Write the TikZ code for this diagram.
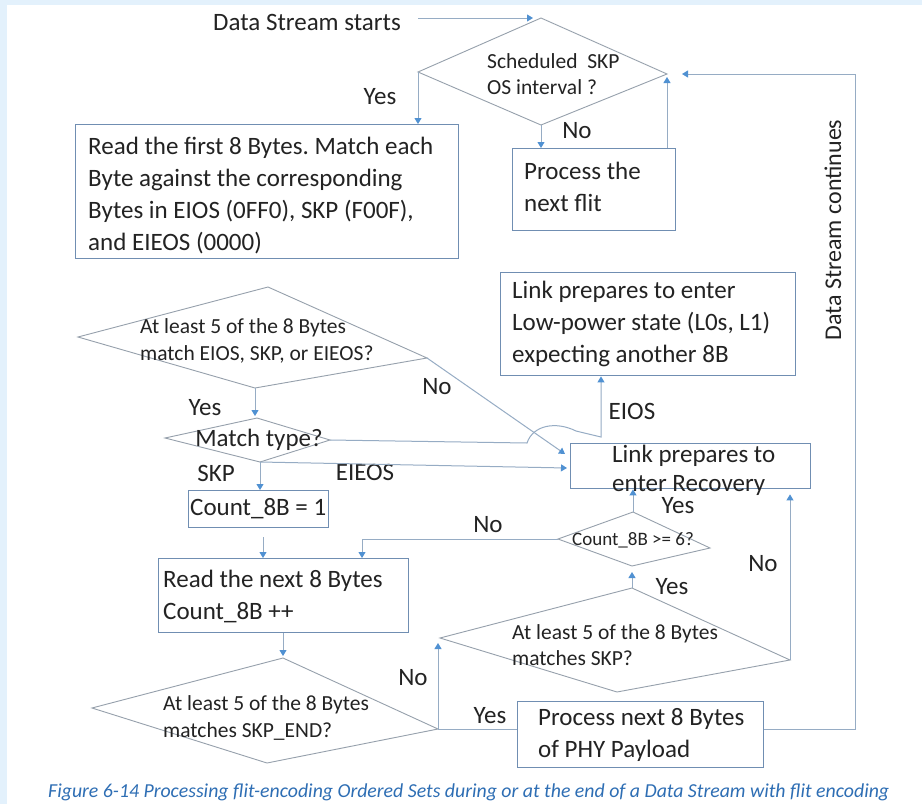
\documentclass[tikz,border=0pt]{standalone}
\usepackage{fontspec}
\setmainfont{Carlito}
\usetikzlibrary{arrows.meta}
\definecolor{bgblue}{RGB}{227,241,252}
\definecolor{boxc}{RGB}{112,142,178}
\definecolor{diac}{RGB}{150,160,172}
\definecolor{lnc}{RGB}{150,172,196}
\definecolor{arrc}{RGB}{80,145,210}
\definecolor{txtc}{RGB}{35,35,35}
\definecolor{capc}{RGB}{46,110,180}
\tikzset{
  big/.style={font=\fontsize{25}{32}\selectfont\frenchspacing, text=txtc},
  mid/.style={font=\fontsize{21.5}{26.5}\selectfont, text=txtc},
  small/.style={font=\fontsize{19}{23}\selectfont, text=txtc},
  box/.style={draw=boxc, line width=1.4pt, anchor=north west, inner sep=0pt},
  btext/.style={big, inner sep=0pt, align=left, anchor=west},
  lbl/.style={big, inner sep=0pt},
  dtext/.style={mid, inner sep=0pt, align=left, anchor=west},
  conn/.style={draw=lnc, line width=1pt},
  arr/.style={conn, -{Triangle[length=6pt,width=7pt,color=arrc]}},
  dia/.style={draw=diac, line width=0.9pt, line join=miter},
}
\begin{document}
\begin{tikzpicture}[x=1pt,y=-1pt]
\useasboundingbox (0,0) rectangle (922,804);
\fill[bgblue] (0,0) rectangle (922,804);
\fill[white] (7,5) rectangle (922,804);

% diamond vertices
\coordinate (d1t) at (541,18);  \coordinate (d1r) at (667,74);
\coordinate (d1b) at (541,125); \coordinate (d1l) at (418,72);
\coordinate (d2t) at (268,287); \coordinate (d2r) at (427,358);
\coordinate (d2b) at (255,388); \coordinate (d2l) at (78,337);
\coordinate (mt) at (257,418);  \coordinate (mr) at (330,440);
\coordinate (mb) at (260,462);  \coordinate (ml) at (165,438);
\coordinate (d3t) at (633,512); \coordinate (d3r) at (710,548);
\coordinate (d3b) at (632,566); \coordinate (d3l) at (558,539);
\coordinate (d4t) at (632,588); \coordinate (d4r) at (790,660);
\coordinate (d4b) at (617,692); \coordinate (d4l) at (440,638);
\coordinate (d5t) at (283,658); \coordinate (d5r) at (438,729);
\coordinate (d5b) at (267,763); \coordinate (d5l) at (92,708);

\draw[dia] (d1t) -- (d1r) -- (d1b) -- (d1l) -- cycle;
\draw[dia] (d2t) -- (d2r) -- (d2b) -- (d2l) -- cycle;
\draw[dia] (mt) -- (mr) -- (mb) -- (ml) -- cycle;
\draw[dia] (d3t) -- (d3r) -- (d3b) -- (d3l) -- cycle;
\draw[dia] (d4t) -- (d4r) -- (d4b) -- (d4l) -- cycle;
\draw[dia] (d5t) -- (d5r) -- (d5b) -- (d5l) -- cycle;

% diamond texts
\node[dtext] (d1x) at (487,74) {Scheduled\ \ SKP\\OS interval ?};
\node[dtext] (d2x) at (140,341) {At least 5 of the 8 Bytes\\match EIOS, SKP, or EIEOS?};
\node[big, inner sep=0pt] (mx) at (259,440) {Match type?};
\node[small, inner sep=0pt] (d3x) at (633,540) {Count\_8B >= 6?};
\node[dtext] (d4x) at (512,645) {At least 5 of the 8 Bytes\\matches SKP?};
\node[dtext] (d5x) at (163,718) {At least 5 of the 8 Bytes\\matches SKP\_END?};

% boxes
\node[box, minimum width=383pt, minimum height=134pt] (b1) at (75,124) {};
\node[btext] (b1x) at (88,196)
  {Read the first 8 Bytes. Match each\\Byte against the corresponding\\Bytes in EIOS (0FF0), SKP (F00F),\\and EIEOS (0000)};
\node[box, minimum width=163pt, minimum height=82pt] (b2) at (512,148) {};
\node[btext] (b2x) at (524,187) {Process the\\next flit};
\node[box, minimum width=295pt, minimum height=103pt] (b3) at (500,272) {};
\node[btext] (b3x) at (512,324) {Link prepares to enter\\Low-power state (L0s, L1)\\expecting another 8B};
\node[box, minimum width=240pt, minimum height=45pt] (b4) at (570,443) {};
\node[btext, font=\fontsize{25}{29}\selectfont] (b4x) at (612,470) {Link prepares to\\enter Recovery};
\node[box, minimum width=140pt, minimum height=37pt] (cnt) at (188,490) {};
\node[btext] (cntx) at (190,509) {Count\_8B = 1};
\node[box, minimum width=250pt, minimum height=74pt] (b5) at (158,558) {};
\node[btext] (b5x) at (163,596) {Read the next 8 Bytes\\Count\_8B ++};
\node[box, minimum width=246pt, minimum height=66pt] (b6) at (517,701) {};
\node[btext] (b6x) at (538,735) {Process next 8 Bytes\\of PHY Payload};

% free texts
\node[lbl] (dss) at (307,22) {Data Stream starts};
\node[lbl, rotate=90, font=\fontsize{24}{28}\selectfont] (dsc) at (833,230) {Data Stream continues};
\node[anchor=base west, inner sep=0pt, text=capc, font=\fontsize{19.8}{23}\selectfont\itshape] (cap) at (48,797.5)
  {Figure 6-14 Processing flit-encoding Ordered Sets during or at the end of a Data Stream with flit encoding};

% labels
\node[lbl] (l1) at (380,97) {Yes};
\node[lbl] (l2) at (577,131) {No};
\node[lbl] (l3) at (205,408) {Yes};
\node[lbl] (l4) at (437,387) {No};
\node[lbl] (l5) at (632,411) {EIOS};
\node[lbl] (l6) at (216,473) {SKP};
\node[lbl] (l7) at (365,472) {EIEOS};
\node[lbl] (l8) at (488,525) {No};
\node[lbl] (l9) at (678,506) {Yes};
\node[lbl] (l10) at (672,587) {Yes};
\node[lbl] (l11) at (763,564) {No};
\node[lbl] (l12) at (413,678) {No};
\node[lbl] (l13) at (490,716) {Yes};

% connector helper points
\coordinate (s0) at (418,18);
\coordinate (s1) at (533,18);
\coordinate (lp) at (855,74);
\coordinate (lpend) at (682,74);
\coordinate (e1) at (527,443);
\coordinate (e2) at (576,431);
\coordinate (e3) at (601,437);
\coordinate (nd) at (565,454);
\coordinate (ee) at (567,468);
\coordinate (c1) at (263,537);
\coordinate (b5in) at (362,558);

% connectors
\draw[arr] (s0) -- (s1);
\draw[arr] (d1l) -- (d1l |- b1.north);
\draw[arr] (d1b) -- (d1b |- b2.north);
\draw[arr] (b2.north -| d1r) -- ([yshift=-3pt]d1r);
\draw[arr] (d5r -| b6.east) -| (lp) -- (lpend);
\draw[arr] (mr) -- (e1) .. controls (533,425) and (556,421) .. (e2) -- (e3) -- (e3 |- b3.south);
\draw[arr] (d2r) -- (nd);
\draw[arr] (d2b) -- ([yshift=2pt]d2b |- mt);
\draw[arr] (mb) -- (mb |- cnt.north);
\draw[arr] (mb) -- (ee);
\draw[arr] (c1) -- (c1 |- b5.north);
\draw[arr] (d3l) -| (b5in);
\draw[arr] (d3t) -- (d3t |- b4.south);
\draw[arr] (d4t) -- ([yshift=-6pt]d3b);
\draw[arr] (d4r) -- ([yshift=-5pt]d4r |- b4.south);
\draw[arr] (b5.south -| d5t) -- ([yshift=2pt]d5t);
\draw[arr] (d5r) -- ([yshift=-5pt]d5r |- d4l);
\draw[conn] (d5r) -- (d5r -| b6.west);
\end{tikzpicture}
\end{document}
